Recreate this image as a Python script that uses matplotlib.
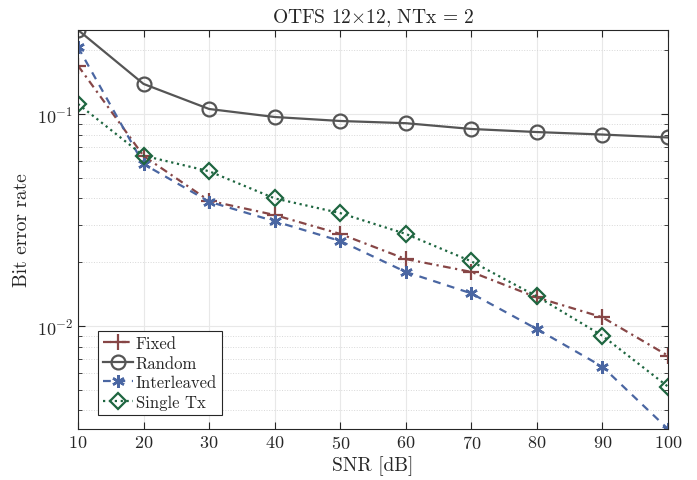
import numpy as np
import matplotlib
matplotlib.use("Agg")
import matplotlib.pyplot as plt
from matplotlib.ticker import LogLocator, NullFormatter

plt.rcParams['font.family'] = 'serif'
plt.rcParams['font.serif'] = ['cmr10']
plt.rcParams['mathtext.fontset'] = 'cm'
plt.rcParams['axes.formatter.use_mathtext'] = True
plt.rcParams['axes.unicode_minus'] = False

snr = [10, 20, 30, 40, 50, 60, 70, 80, 90, 100]
ber_fixed = [0.169, 0.0634, 0.039, 0.0334, 0.0272, 0.0207, 0.0180, 0.01364, 0.0110, 0.00725]
ber_random = [0.249, 0.1386, 0.1056, 0.0968, 0.0927, 0.0905, 0.0850, 0.0822, 0.0800, 0.0775]
ber_interleaved = [0.2066, 0.0581, 0.0386, 0.0312, 0.0252, 0.0180, 0.01426, 0.00968, 0.00643, 0.00327]
ber_single = [0.1115, 0.0636, 0.0537, 0.0400, 0.0341, 0.0272, 0.0202, 0.0138, 0.0090, 0.00518]

txt = '#262626'
fig = plt.figure(figsize=(6.97, 4.81), dpi=100)
ax = fig.add_axes([0.1119, 0.106, 0.8465, 0.8296])

ax.semilogy(snr, ber_fixed, color='#874646', dashes=(3.5, 2, 1, 2), marker='+', ms=11, mew=1.6, lw=1.6, label='Fixed')
ax.semilogy(snr, ber_random, '-', color='#555555', marker='o', ms=10, mfc='none', mew=1.6, lw=1.6, label='Random')
ax.semilogy(snr, ber_interleaved, color='#4a66a2', dashes=(3.5, 3), marker=(6, 2, 0), ms=9, mew=1.8, lw=1.6, label='Interleaved')
ax.semilogy(snr, ber_single, ':', color='#1e6640', marker='D', ms=8, mfc='none', mew=1.6, lw=1.6, label='Single Tx')

ax.set_xlim(10, 100)
ax.set_ylim(0.00327, 0.249)
ax.set_xticks(snr)
ax.yaxis.set_major_locator(LogLocator(base=10))
ax.yaxis.set_minor_locator(LogLocator(base=10, subs=np.arange(2, 10)))
ax.yaxis.set_minor_formatter(NullFormatter())

ax.grid(True, which='major', color='#e8e8e8', lw=0.8)
ax.grid(True, which='minor', axis='y', color='#d8d8d8', ls=':', lw=0.7)
ax.set_axisbelow(True)
ax.tick_params(which='both', direction='in', top=True, right=True, colors=txt, labelsize=13)
ax.tick_params(which='major', length=5)
ax.tick_params(which='minor', length=3)
for s in ax.spines.values():
    s.set_color(txt)
    s.set_linewidth(0.8)

ax.set_xlabel('SNR [dB]', fontsize=14, color=txt, labelpad=3)
ax.set_ylabel('Bit error rate', fontsize=14, color=txt)
ax.set_title(r'OTFS 12$\times$12, NTx = 2', fontsize=14, color=txt, pad=6)

leg = ax.legend(loc='lower left', bbox_to_anchor=(0.034, 0.036), fontsize=12, fancybox=False,
                edgecolor=txt, framealpha=1, handlelength=1.8, borderpad=0.3, labelspacing=0.25,
                handletextpad=0.15, borderaxespad=0)
leg.get_frame().set_linewidth(0.8)
for t in leg.get_texts():
    t.set_color(txt)

fig.savefig('out.png', dpi=100)
